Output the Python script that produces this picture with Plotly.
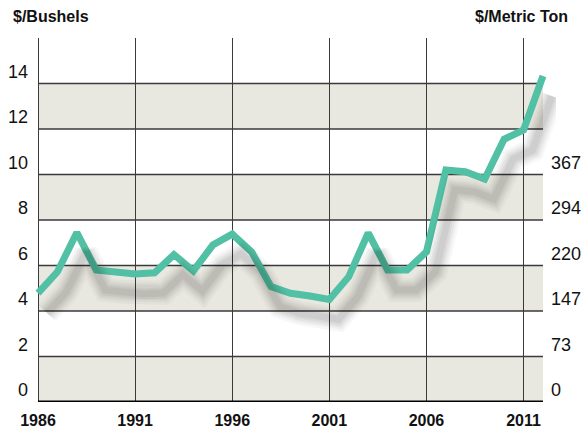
import plotly.graph_objects as go

# ---- data ----
years = list(range(1986, 2013))
price_bushel = [4.79, 5.72, 7.45, 5.80, 5.71, 5.63, 5.68, 6.48, 5.76, 6.90,
                7.38, 6.60, 5.07, 4.78, 4.66, 4.51, 5.51, 7.43, 5.80, 5.80,
                6.60, 10.20, 10.12, 9.80, 11.55, 11.96, 14.33]
x_ticks = [1986, 1991, 1996, 2001, 2006, 2011]
left_ticks = [0, 2, 4, 6, 8, 10, 12, 14]
right_tickvals = [0, 2, 4, 6, 8, 10]
right_ticktext = ["0", "73", "147", "220", "294", "367"]

# ---- geometry / style ----
W, H = 588, 429
ML, MR, MT, MB = 34, 32, 38, 27
PX_PER_YEAR = 19.385
PX_PER_UNIT = 22.75
X0 = 1986 - 4 / PX_PER_YEAR
X1 = 2012 + 13 / PX_PER_YEAR
Y0, Y1 = 0, 16
LABEL_SHIFT = 12 / PX_PER_UNIT      # tick labels sit above their gridline
SH_DX, SH_DY = 9, 20                # shadow offset in px

LINE_COLOR = "#52C0A4"
BAND_COLOR = "#E9E8E0"
GRID_COLOR = "#3a3a3a"
FONT = "Liberation Sans"

fig = go.Figure()

# shadow (soft, layered)
for w, a in [(24, 0.03), (19, 0.035), (15, 0.04), (11, 0.045), (7, 0.05)]:
    fig.add_trace(go.Scatter(x=years, y=price_bushel, mode="lines",
                             xaxis="x2", yaxis="y2", hoverinfo="skip",
                             line=dict(color=f"rgba(0,0,0,{a})", width=w),
                             showlegend=False))

# main line
fig.add_trace(go.Scatter(x=years, y=price_bushel, mode="lines",
                         line=dict(color=LINE_COLOR, width=7),
                         showlegend=False))

# invisible traces so the label axes are drawn
for ax in ["y3", "y4"]:
    fig.add_trace(go.Scatter(x=[years[0]], y=[left_ticks[0]], mode="markers",
                             yaxis=ax, marker=dict(opacity=0), hoverinfo="skip",
                             showlegend=False))

# bands and horizontal gridlines
shapes = []
for v in left_ticks:
    if (v // 2) % 2 == 0:
        shapes.append(dict(type="rect", xref="x", yref="y", x0=1986, x1=2012,
                           y0=v, y1=v + 2, fillcolor=BAND_COLOR, line_width=0,
                           layer="below"))
for v in left_ticks[1:]:
    shapes.append(dict(type="line", xref="x", yref="y", x0=1986, x1=2012,
                       y0=v, y1=v, line=dict(color=GRID_COLOR, width=1.3),
                       layer="below"))
shapes.append(dict(type="line", xref="x", yref="y", x0=1986, x1=2012,
                   y0=0, y1=0, line=dict(color="#000000", width=3)))

fig.update_layout(
    width=W, height=H,
    margin=dict(l=ML, r=MR, t=MT, b=MB, autoexpand=False),
    paper_bgcolor="white", plot_bgcolor="white",
    shapes=shapes,
    font=dict(family=FONT, color="#111111"),
    xaxis=dict(range=[X0, X1], tickvals=x_ticks, showgrid=True,
               gridcolor=GRID_COLOR, gridwidth=1.3, zeroline=False,
               showline=False, ticks="", automargin=False,
               ticklabelstandoff=7,
               tickfont=dict(size=16, family=FONT, weight="bold", color="#111111")),
    yaxis=dict(range=[Y0, Y1], showgrid=False, zeroline=False,
               showticklabels=False, ticks="", automargin=False),
    xaxis2=dict(overlaying="x", range=[X0 - SH_DX / PX_PER_YEAR, X1 - SH_DX / PX_PER_YEAR],
                visible=False, automargin=False),
    yaxis2=dict(overlaying="y", range=[Y0 + SH_DY / PX_PER_UNIT, Y1 + SH_DY / PX_PER_UNIT],
                visible=False, automargin=False),
    yaxis3=dict(overlaying="y", side="left", anchor="x",
                range=[Y0 - LABEL_SHIFT, Y1 - LABEL_SHIFT],
                tickvals=left_ticks, showgrid=False, zeroline=False, ticks="",
                ticklabelstandoff=5, automargin=False,
                tickfont=dict(size=18, family=FONT, color="#111111")),
    yaxis4=dict(overlaying="y", side="right", anchor="x",
                range=[Y0 - LABEL_SHIFT, Y1 - LABEL_SHIFT],
                tickvals=right_tickvals, ticktext=right_ticktext,
                showgrid=False, zeroline=False, ticks="",
                ticklabelstandoff=-6, automargin=False,
                tickfont=dict(size=18, family=FONT, color="#111111")),
    annotations=[
        dict(text="<b>$/Bushels</b>", xref="paper", yref="paper",
             x=(11 - ML) / (W - ML - MR), y=(H - MB - 17) / (H - MT - MB),
             xanchor="left", yanchor="middle", showarrow=False,
             font=dict(size=16, family=FONT, color="#111111")),
        dict(text="<b>$/Metric Ton</b>", xref="paper", yref="paper",
             x=(570 - ML) / (W - ML - MR), y=(H - MB - 17) / (H - MT - MB),
             xanchor="right", yanchor="middle", showarrow=False,
             font=dict(size=16, family=FONT, color="#111111")),
    ],
)

fig.write_html("out.html",
               config={"displayModeBar": False},
               post_script="document.body.style.margin='0';document.body.style.overflow='hidden';")
